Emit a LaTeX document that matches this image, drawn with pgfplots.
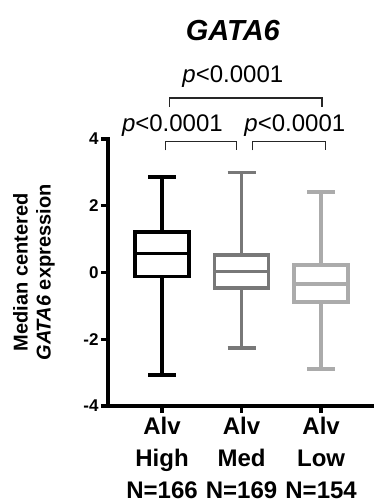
\documentclass[border=0pt]{standalone}
\usepackage{fontspec}
\setmainfont{Liberation Sans}
\usepackage{pgfplots}
\pgfplotsset{compat=1.18}
\usepgfplotslibrary{statistics}
\definecolor{medgray}{HTML}{787878}
\definecolor{lowgray}{HTML}{ABABAB}
\begin{document}
\begin{tikzpicture}
\begin{axis}[
  scale only axis,
  width=264pt, height=267pt,
  xmin=0.32, xmax=3.64,
  ymin=-4, ymax=4,
  axis lines*=left,
  axis line style={line width=3.3pt, line cap=rect},
  clip=false,
  xtick={1,2,3},
  xticklabels={{Alv\\High\\N=166},{Alv\\Med\\N=169},{Alv\\Low\\N=154}},
  ytick={-4,-2,0,2,4},
  yticklabels={-4,-2,0,2,4},
  tick align=outside,
  major tick length=7pt,
  tick style={line width=3.3pt, black},
  xticklabel style={font=\fontsize{24}{32}\selectfont\bfseries, align=center, yshift=-1pt},
  yticklabel style={font=\fontsize{17}{18}\selectfont\bfseries, xshift=1pt},
  ylabel={Median centered\\\textit{GATA6} expression},
  ylabel style={font=\fontsize{20}{23}\selectfont\bfseries, align=center, at={(rel axis cs:-0.28,0.5)}, anchor=center},
  boxplot/draw direction=y,
  boxplot/box extend=0.68,
  boxplot/whisker extend=0.35,
]
\addplot[draw=black, line width=3.6pt, fill=white, boxplot prepared={
  lower whisker=-3.08, lower quartile=-0.12, median=0.57,
  upper quartile=1.22, upper whisker=2.87, draw position=1}] coordinates {};
\addplot[draw=medgray, line width=3.6pt, fill=white, boxplot prepared={
  lower whisker=-2.26, lower quartile=-0.46, median=0.03,
  upper quartile=0.53, upper whisker=3.0, draw position=2}] coordinates {};
\addplot[draw=lowgray, line width=3.6pt, fill=white, boxplot prepared={
  lower whisker=-2.9, lower quartile=-0.88, median=-0.34,
  upper quartile=0.22, upper whisker=2.42, draw position=3}] coordinates {};
% brackets
\draw[line width=1.2pt, black!85] (axis cs:1.09,4.96) -- (axis cs:1.09,5.23) -- (axis cs:3.01,5.23) -- (axis cs:3.01,4.96);
\draw[line width=1.2pt, black!85] (axis cs:1.04,3.66) -- (axis cs:1.04,3.92) -- (axis cs:1.94,3.92) -- (axis cs:1.94,3.66);
\draw[line width=1.2pt, black!85] (axis cs:2.14,3.66) -- (axis cs:2.14,3.92) -- (axis cs:3.06,3.92) -- (axis cs:3.06,3.66);
\node[font=\fontsize{24}{26}\selectfont] at (axis cs:1.89,5.86) {\textit{p}<0.0001};
\node[font=\fontsize{24}{26}\selectfont] at (axis cs:1.13,4.39) {\textit{p}<0.0001};
\node[font=\fontsize{24}{26}\selectfont] at (axis cs:2.67,4.39) {\textit{p}<0.0001};
\node[font=\fontsize{29}{31}\selectfont\bfseries\itshape] at (axis cs:1.89,7.26) {GATA6};
\end{axis}
\pgfresetboundingbox
\path[use as bounding box] (-108pt,-98pt) rectangle (265pt,406pt);
\end{tikzpicture}
\end{document}
